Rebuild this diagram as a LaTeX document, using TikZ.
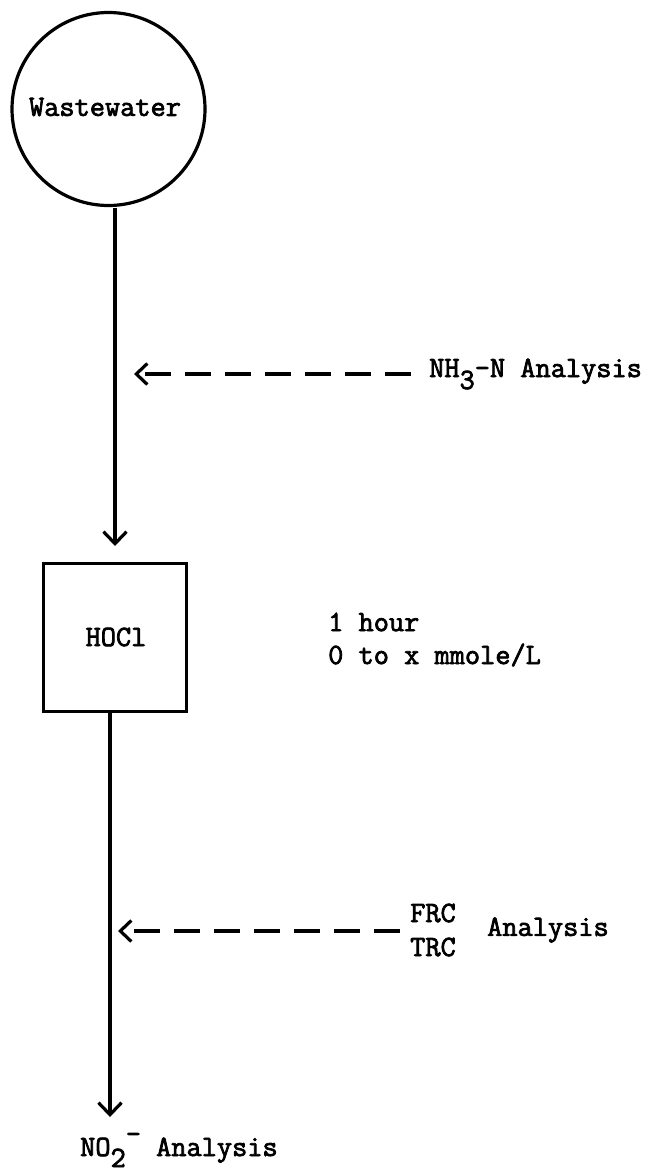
\documentclass[tikz,border=0pt]{standalone}
\usepackage{fontspec}
\newfontfamily\typew{Latin Modern Mono}[FakeBold=2.5]
\usetikzlibrary{arrows.meta}
\tikzset{
  flow/.style={line width=3.2pt, -{Straight Barb[length=12pt,width=23pt,line width=3.2pt]}},
  dashflow/.style={line width=3.2pt, dash pattern=on 26pt off 14pt, -{Straight Barb[length=11pt,width=21pt,line width=3.2pt]}},
  lbl/.style={font=\typew\fontsize{29.5}{34}\selectfont, inner sep=0pt},
  shape line/.style={draw, line width=3.2pt, inner sep=0pt},
}
\begin{document}
\begin{tikzpicture}[x=1pt,y=-1pt]
\useasboundingbox (0,0) rectangle (652,1172);
% Wastewater circle
\node[circle, shape line, minimum size=193pt] (ww) at (108.5,109) {};
\node[lbl] (wwt) at (105,107) {Wastewater};
% HOCl box
\node[shape line, minimum width=143pt, minimum height=148pt] (hocl) at (115,637.5) {};
\node[lbl] (hoclt) at (116,637) {HOCl};
\node[lbl, anchor=west] (time) at (328,622) {1 hour};
\node[lbl, anchor=west] (dose) at (328,655) {0 to x mmole/L};
% main flow
\coordinate (wwb) at (115,208);
\coordinate (hocltop) at (115,546);
\coordinate (hoclb) at (110,712);
\coordinate (endp) at (110,1117);
\draw[flow] (wwb) -- (hocltop);
\draw[flow] (hoclb) -- (endp);
% NH3 analysis
\node[lbl, anchor=west] (nh3) at (429,374) {NH\raisebox{-12pt}{3}-N Analysis};
\coordinate (nh3s) at (411,374);
\coordinate (nh3tip) at (134,374);
\draw[dashflow] (nh3s) -- (nh3tip);
% FRC/TRC analysis
\node[lbl] (frc) at (433,913) {FRC};
\node[lbl] (trc) at (433,947) {TRC};
\node[lbl, anchor=west] (frcan) at (487,930) {Analysis};
\coordinate (frcs) at (400,931);
\coordinate (frctip) at (118,931);
\draw[dashflow] (frcs) -- (frctip);
% NO2- analysis
\node[lbl, anchor=west] (no2) at (80,1150) {NO\raisebox{-11pt}{2}\raisebox{13pt}{-} Analysis};
\end{tikzpicture}
\end{document}
